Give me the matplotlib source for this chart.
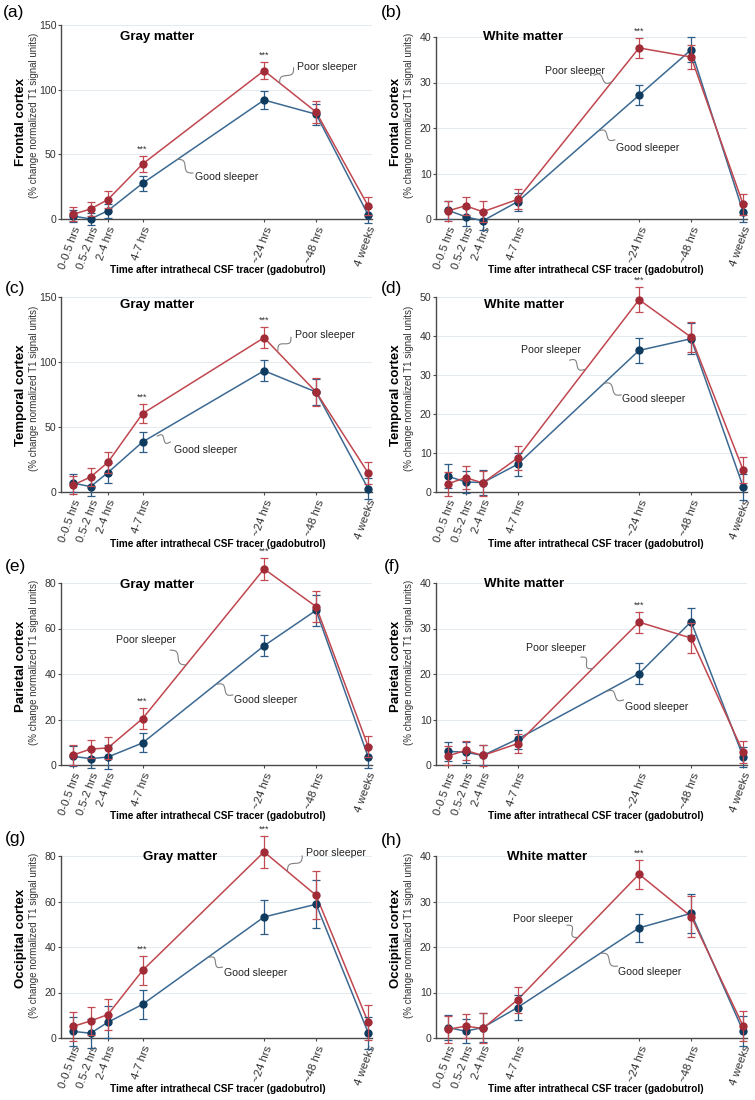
import numpy as np
import matplotlib
matplotlib.use("Agg")
import matplotlib.pyplot as plt

plt.rcParams['font.family'] = ['Liberation Sans', 'DejaVu Sans']

# ---------------- data ----------------
x_pos = [0, 1, 2, 4, 11, 14, 17]
x_labels = ["0-0.5 hrs", "0.5-2 hrs", "2-4 hrs", "4-7 hrs", "~24 hrs", "~48 hrs", "4 weeks"]

panel_letters = ["(a)", "(b)", "(c)", "(d)", "(e)", "(f)", "(g)", "(h)"]
panel_titles = ["Gray matter", "White matter"] * 4
region_labels = ["Frontal cortex", "Temporal cortex", "Parietal cortex", "Occipital cortex"]
ylims = [150, 40, 150, 50, 80, 40, 80, 40]
ysteps = [50, 10, 50, 10, 20, 10, 20, 10]

poor_a = [3.6, 7.7, 15.0, 42.5, 114.7, 82.7, 10.0]
poor_a_err = [5.5, 5.7, 6.4, 6.2, 6.7, 8.8, 6.7]
good_a = [2.3, 0.0, 6.4, 27.6, 92.0, 81.0, 3.1]
good_a_err = [5.0, 5.0, 5.5, 6.0, 6.7, 8.0, 6.4]

poor_b = [1.8, 2.9, 1.6, 4.3, 37.6, 35.6, 3.2]
poor_b_err = [2.2, 2.0, 2.3, 2.2, 2.2, 2.7, 2.3]
good_b = [1.9, 0.5, -0.4, 3.8, 27.2, 37.2, 1.5]
good_b_err = [2.0, 2.0, 2.0, 2.0, 2.2, 2.8, 2.1]

poor_c = [5.4, 11.5, 22.8, 60.3, 118.7, 76.9, 14.6]
poor_c_err = [7.0, 7.0, 8.0, 7.4, 8.0, 10.5, 8.2]
good_c = [6.9, 4.1, 14.9, 38.5, 93.3, 76.9, 2.6]
good_c_err = [7.0, 7.4, 7.7, 7.7, 8.2, 10.0, 8.2]

poor_d = [2.1, 3.7, 2.3, 8.7, 49.3, 39.7, 5.6]
poor_d_err = [3.0, 2.9, 3.2, 3.1, 3.2, 3.9, 3.3]
good_d = [4.0, 2.6, 2.4, 7.1, 36.3, 39.3, 1.3]
good_d_err = [3.1, 2.8, 3.2, 2.9, 3.1, 4.0, 3.3]

poor_e = [4.4, 7.0, 7.5, 20.4, 86.2, 69.6, 8.1]
poor_e_err = [4.3, 4.0, 4.7, 4.6, 4.7, 6.9, 4.8]
good_e = [3.8, 2.8, 3.5, 9.7, 52.4, 68.0, 3.5]
good_e_err = [4.4, 4.3, 5.1, 4.2, 4.7, 6.8, 5.0]

poor_f = [2.0, 3.2, 2.1, 4.7, 31.4, 27.9, 2.8]
poor_f_err = [2.1, 2.0, 2.3, 2.1, 2.3, 3.2, 2.4]
good_f = [3.0, 2.8, 2.1, 5.7, 20.1, 31.5, 1.8]
good_f_err = [2.1, 2.3, 2.2, 2.1, 2.3, 3.0, 2.2]

poor_g = [5.1, 7.5, 10.3, 29.7, 81.8, 62.7, 6.9]
poor_g_err = [6.5, 6.1, 7.0, 6.5, 7.2, 10.5, 7.8]
good_g = [2.9, 2.1, 6.9, 14.8, 53.2, 58.8, 2.3]
good_g_err = [6.5, 6.3, 7.0, 6.3, 7.3, 10.5, 7.1]

poor_h = [1.9, 2.6, 2.1, 8.4, 36.0, 26.7, 2.6]
poor_h_err = [2.9, 2.6, 3.3, 2.8, 3.2, 4.5, 3.3]
good_h = [2.3, 1.5, 2.3, 6.7, 24.2, 27.4, 1.5]
good_h_err = [2.8, 2.7, 3.2, 2.7, 3.1, 4.3, 3.3]

poor_all = [poor_a, poor_b, poor_c, poor_d, poor_e, poor_f, poor_g, poor_h]
poor_err_all = [poor_a_err, poor_b_err, poor_c_err, poor_d_err, poor_e_err, poor_f_err, poor_g_err, poor_h_err]
good_all = [good_a, good_b, good_c, good_d, good_e, good_f, good_g, good_h]
good_err_all = [good_a_err, good_b_err, good_c_err, good_d_err, good_e_err, good_f_err, good_g_err, good_h_err]

# significance marks (index of time points) per panel
sig_idx = [[3, 4], [4], [3, 4], [4], [3, 4], [4], [3, 4], [4]]

# annotations: (text x, text y, squiggle start x, y, end x, y) in data units
poor_ann = [(12.9, 117.5, 12.7, 116.8, 11.9, 105.0),
            (5.6, 32.5, 8.4, 31.6, 9.4, 30.1),
            (12.8, 120.8, 12.55, 119.0, 11.8, 109.0),
            (4.2, 36.4, 7.0, 33.8, 7.85, 31.4),
            (2.45, 55.0, 5.6, 50.5, 6.5, 44.0),
            (4.5, 25.7, 7.65, 23.7, 8.3, 21.2),
            (13.4, 81.3, 13.2, 80.0, 12.35, 73.5),
            (3.75, 26.2, 6.85, 24.8, 7.45, 22.1)]
good_ann = [(7.0, 32.5, 6.9, 35.6, 6.0, 46.0),
            (9.7, 15.6, 9.6, 17.4, 8.7, 19.4),
            (5.8, 32.3, 5.6, 38.5, 4.85, 43.0),
            (10.0, 23.8, 9.97, 24.9, 9.0, 27.9),
            (9.25, 28.6, 9.2, 30.8, 8.3, 35.5),
            (10.2, 12.7, 10.1, 14.3, 9.15, 16.2),
            (8.7, 28.6, 8.6, 31.2, 7.8, 35.4),
            (9.8, 14.5, 9.75, 15.8, 8.8, 18.6)]

# ---------------- style ----------------
RED_LINE = "#C0474F"
RED_MK = "#A12B37"
RED_ERR = "#C24A52"
BLUE_LINE = "#3C6992"
BLUE_MK = "#0F3B5F"
BLUE_ERR = "#2D5C86"
GRID = "#E3EAF0"
SPINE = "#4A4A4A"

W, H = 755, 1100
fig = plt.figure(figsize=(W / 100, H / 100), dpi=100)

col_lr = [(61, 372), (436, 747)]
row_tb = [[(25, 219), (37, 219)], [(297, 492), (297, 492)],
          [(583, 765), (583, 765)], [(856, 1038), (856, 1038)]]
letter_pos = [(14, 13), (392, 13), (15, 289), (392, 289), (15, 567), (392, 567), (15, 839), (392, 841)]
title_pos = [(157, 37), (523, 37), (157, 305), (524, 305), (157, 585), (524, 584), (180, 857), (547, 857)]
bold_lab_y = [122, 395, 666, 938]
small_lab_y = [115, 388, 662, 935]
xlab_y = [270, 544, 816, 1089]
xlab_x = [218, 596]


def px(x, y):
    return x / W, 1 - y / H


def squiggle(ax, x0, y0, x1, y1, amp=3.0):
    p0 = ax.transData.transform((x0, y0))
    p1 = ax.transData.transform((x1, y1))
    t = np.linspace(0, 1, 60)
    d = p1 - p0
    L = np.hypot(*d)
    n = np.array([-d[1], d[0]]) / L
    pts = p0[None, :] + t[:, None] * d[None, :] + (amp * np.sin(2 * np.pi * t))[:, None] * n[None, :]
    fig_pts = fig.transFigure.inverted().transform(pts)
    fig.add_artist(plt.Line2D(fig_pts[:, 0], fig_pts[:, 1], color="#808080", lw=0.8,
                              transform=fig.transFigure))


for i in range(8):
    r, c = divmod(i, 2)
    l, rr = col_lr[c]
    t, b = row_tb[r][c]
    ax = fig.add_axes([l / W, 1 - b / H, (rr - l) / W, (b - t) / H])
    ax.set_xlim(-0.7, 17.22)
    ax.set_ylim(0, ylims[i])
    ax.set_yticks(np.arange(0, ylims[i] + 0.1, ysteps[i]))
    ax.yaxis.grid(True, color=GRID, lw=0.7)
    ax.set_axisbelow(True)
    for s in ["top", "right"]:
        ax.spines[s].set_visible(False)
    for s in ["left", "bottom"]:
        ax.spines[s].set_color(SPINE)
        ax.spines[s].set_linewidth(1.0)
    ax.tick_params(axis="both", colors=SPINE, labelcolor="#333333", length=2.5, width=0.8,
                   labelsize=7.6, direction="out")
    ax.tick_params(axis="y", pad=0.8)
    ax.tick_params(axis="x", pad=2.0)
    ax.set_xticks(x_pos)
    ax.set_xticklabels(x_labels, rotation=70, ha="right", va="top", rotation_mode="anchor",
                       fontsize=8.2, color="#333333")

    ax.plot(x_pos, good_all[i], color=BLUE_LINE, lw=1.1, zorder=3, clip_on=False)
    ax.plot(x_pos, poor_all[i], color=RED_LINE, lw=1.1, zorder=3, clip_on=False)
    eb = ax.errorbar(x_pos, good_all[i], yerr=good_err_all[i], fmt="o", color=BLUE_MK,
                     ms=5, ecolor=BLUE_ERR, elinewidth=0.9, capsize=3.2, capthick=0.9, zorder=4)
    for a in eb.lines[1] + eb.lines[2]:
        a.set_clip_on(False)
    eb.lines[0].set_clip_on(False)
    eb = ax.errorbar(x_pos, poor_all[i], yerr=poor_err_all[i], fmt="o", color=RED_MK,
                     ms=5, ecolor=RED_ERR, elinewidth=0.9, capsize=3.2, capthick=0.9, zorder=5)
    for a in eb.lines[1] + eb.lines[2]:
        a.set_clip_on(False)
    eb.lines[0].set_clip_on(False)

    for k in sig_idx[i]:
        ytop = poor_all[i][k] + poor_err_all[i][k]
        ax.annotate("***", (x_pos[k], ytop), xytext=(0, 1.5), textcoords="offset points",
                    ha="center", va="bottom", fontsize=6.5, color="#333333", annotation_clip=False)

    tx, ty, sx, sy, ex, ey = poor_ann[i]
    ax.text(tx, ty, "Poor sleeper", fontsize=7.6, color="#222222", ha="left", va="center")
    squiggle(ax, sx, sy, ex, ey)
    tx, ty, sx, sy, ex, ey = good_ann[i]
    ax.text(tx, ty, "Good sleeper", fontsize=7.6, color="#222222", ha="left", va="center")
    squiggle(ax, sx, sy, ex, ey)

    # panel texts
    fig.text(*px(*letter_pos[i]), panel_letters[i], fontsize=12.5, ha="center", va="center")
    fig.text(*px(*title_pos[i]), panel_titles[i], fontsize=9.5, fontweight="bold",
             ha="center", va="center")
    lab_x = 21 if c == 0 else 396
    fig.text(*px(lab_x, bold_lab_y[r]), region_labels[r], fontsize=9.5, fontweight="bold",
             rotation=90, ha="center", va="center")
    fig.text(*px(lab_x + 13.5, small_lab_y[r]), "(% change normalized T1 signal units)",
             fontsize=7.0, color="#333333", rotation=90, ha="center", va="center")
    fig.text(*px(xlab_x[c], xlab_y[r]), "Time after intrathecal CSF tracer (gadobutrol)",
             fontsize=7.2, fontweight="bold", ha="center", va="center")

fig.savefig("out.png", dpi=100, facecolor="white")
